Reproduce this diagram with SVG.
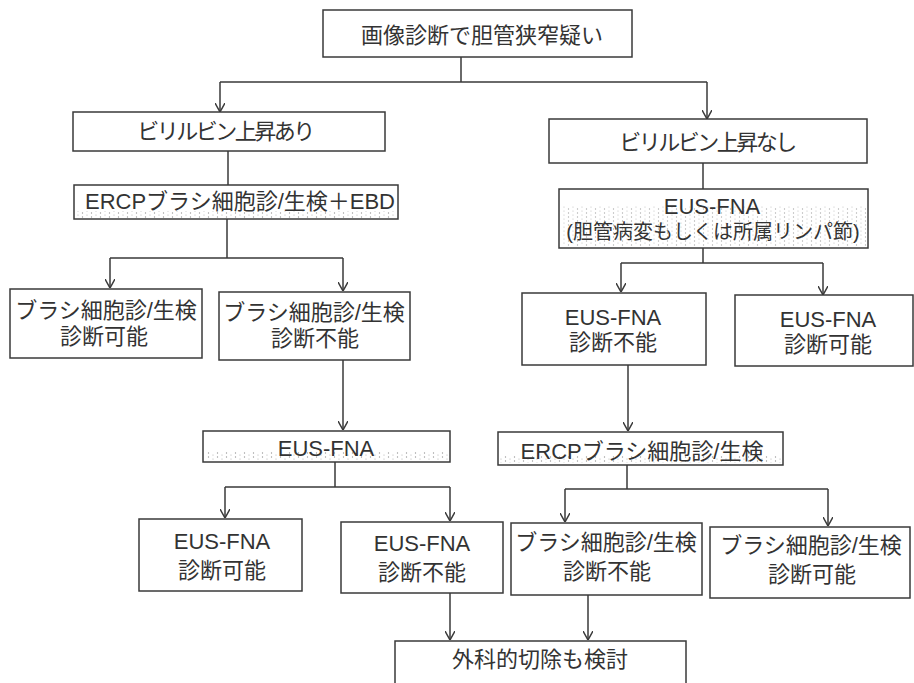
<svg xmlns="http://www.w3.org/2000/svg" width="914" height="683" viewBox="0 0 914 683">
<style>
.box{fill:#fff;stroke:#3a3a3a;stroke-width:1.5}
.t{font-family:"Liberation Sans","Noto Sans CJK JP",sans-serif;font-size:22px;fill:#333;text-anchor:middle}
.s{font-size:20px}
.c{fill:none;stroke:#3a3a3a;stroke-width:1.5}
.sp{fill:url(#speck);stroke:none}
</style>
<defs>
<marker id="ah" viewBox="0 0 9 10" refX="9" refY="5" markerWidth="9" markerHeight="10" markerUnits="userSpaceOnUse" orient="auto">
<path d="M0,0 L9,5 L0,10" fill="none" stroke="#3a3a3a" stroke-width="1.5"/>
</marker>
<pattern id="speck" width="9" height="4" patternUnits="userSpaceOnUse">
<circle cx="1.5" cy="1" r="0.7" fill="#9a9a9a"/>
<circle cx="6" cy="3" r="0.6" fill="#b0b0b0"/>
</pattern>
</defs>
<rect width="914" height="683" fill="#fff"/>

<g id="connectors">
<path class="c" d="M461,57 V82 M220,82 H707"/>
<path class="c" d="M220,82 V112" marker-end="url(#ah)"/>
<path class="c" d="M707,82 V119" marker-end="url(#ah)"/>
<path class="c" d="M228,151 V185"/>
<path class="c" d="M227,219 V258 M110,258 H343"/>
<path class="c" d="M110,258 V288" marker-end="url(#ah)"/>
<path class="c" d="M343,258 V291" marker-end="url(#ah)"/>
<path class="c" d="M343,360 V430" marker-end="url(#ah)"/>
<path class="c" d="M335,462 V487 M225,487 H450"/>
<path class="c" d="M225,487 V518" marker-end="url(#ah)"/>
<path class="c" d="M450,487 V521" marker-end="url(#ah)"/>
<path class="c" d="M450,593 V640" marker-end="url(#ah)"/>
<path class="c" d="M703,163 V189"/>
<path class="c" d="M703,248 V263 M621,263 H823"/>
<path class="c" d="M621,263 V292" marker-end="url(#ah)"/>
<path class="c" d="M823,263 V295" marker-end="url(#ah)"/>
<path class="c" d="M628,365 V431" marker-end="url(#ah)"/>
<path class="c" d="M627,465 V489 M565,489 H828"/>
<path class="c" d="M565,489 V522" marker-end="url(#ah)"/>
<path class="c" d="M828,489 V526" marker-end="url(#ah)"/>
<path class="c" d="M588,595 V640" marker-end="url(#ah)"/>
</g>

<g id="n1">
<rect class="box" x="323" y="10" width="309" height="47"/>
<text class="t" x="482" y="43">画像診断で胆管狭窄疑い</text>
</g>

<g id="n2">
<rect class="box" x="73" y="112" width="312" height="39"/>
<text class="t" x="225" y="139" letter-spacing="-2.5">ビリルビン上昇あり</text>
</g>

<g id="n3">
<rect class="box" x="74" y="185" width="324" height="34"/>
<rect class="sp" x="76" y="211" width="320" height="7"/>
<text class="t" x="240" y="209">ERCPブラシ細胞診/生検＋EBD</text>
</g>

<g id="n4">
<rect class="box" x="10" y="289" width="192" height="69"/>
<text class="t" x="106" y="318">ブラシ細胞診/生検</text>
<text class="t" x="104" y="344">診断可能</text>
</g>

<g id="n5">
<rect class="box" x="219" y="292" width="191" height="68"/>
<text class="t" x="314" y="320">ブラシ細胞診/生検</text>
<text class="t" x="315" y="346">診断不能</text>
</g>

<g id="n6">
<rect class="box" x="203" y="431" width="247" height="31"/>
<rect class="sp" x="205" y="452" width="243" height="8"/>
<text class="t" x="326" y="456">EUS-FNA</text>
</g>

<g id="n7">
<rect class="box" x="139" y="519" width="163" height="72"/>
<text class="t" x="222" y="549">EUS-FNA</text>
<text class="t" x="222" y="578">診断可能</text>
</g>

<g id="n8">
<rect class="box" x="341" y="522" width="162" height="71"/>
<text class="t" x="422" y="551">EUS-FNA</text>
<text class="t" x="422" y="580">診断不能</text>
</g>

<g id="n9">
<rect class="box" x="395" y="641" width="291" height="60"/>
<text class="t" x="540" y="667">外科的切除も検討</text>
</g>

<g id="n10">
<rect class="box" x="549" y="119" width="318" height="44"/>
<text class="t" x="707" y="150" letter-spacing="-2.5">ビリルビン上昇なし</text>
</g>

<g id="n11">
<rect class="box" x="559" y="189" width="309" height="59"/>
<rect class="sp" x="561" y="206" width="305" height="40" opacity="0.8"/>
<text class="t" x="712" y="214">EUS-FNA</text>
<text class="t s" x="713" y="239">(胆管病変もしくは所属リンパ節)</text>
</g>

<g id="n12">
<rect class="box" x="522" y="293" width="184" height="72"/>
<text class="t" x="613" y="325">EUS-FNA</text>
<text class="t" x="613" y="350">診断不能</text>
</g>

<g id="n13">
<rect class="box" x="735" y="295" width="178" height="71"/>
<text class="t" x="828" y="327">EUS-FNA</text>
<text class="t" x="828" y="352">診断可能</text>
</g>

<g id="n14">
<rect class="box" x="498" y="432" width="285" height="33"/>
<rect class="sp" x="500" y="456" width="281" height="7"/>
<text class="t" x="642" y="459">ERCPブラシ細胞診/生検</text>
</g>

<g id="n15">
<rect class="box" x="511" y="523" width="191" height="72"/>
<text class="t" x="606" y="550">ブラシ細胞診/生検</text>
<text class="t" x="607" y="579">診断不能</text>
</g>

<g id="n16">
<rect class="box" x="710" y="527" width="200" height="71"/>
<text class="t" x="811" y="553">ブラシ細胞診/生検</text>
<text class="t" x="812" y="582">診断可能</text>
</g>
</svg>
